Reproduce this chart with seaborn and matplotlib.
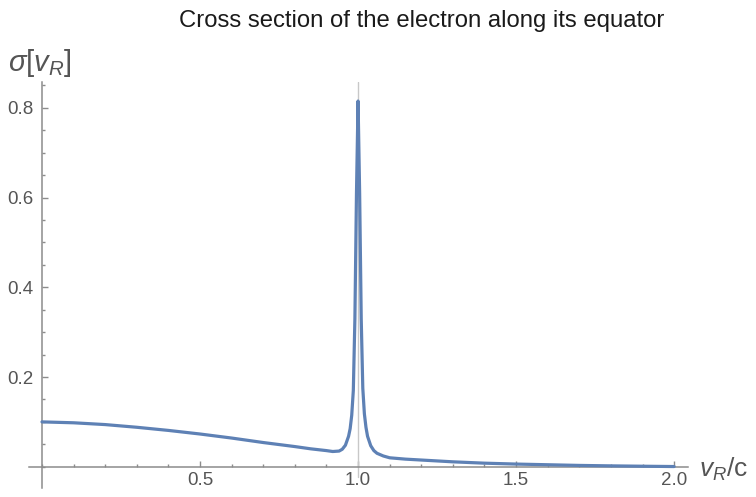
import matplotlib
matplotlib.use("Agg")
import matplotlib.pyplot as plt
from matplotlib.ticker import MultipleLocator, FixedLocator
import seaborn as sns
import pandas as pd

# Equatorial cross section sampled against v_R / c
v_ratio = [0.0, 0.1, 0.2, 0.3, 0.4, 0.5, 0.6, 0.7, 0.8, 0.85, 0.9, 0.92,
           0.94, 0.95, 0.96, 0.97, 0.975, 0.98, 0.985, 0.99, 0.995, 1.0,
           1.005, 1.01, 1.015, 1.02, 1.025, 1.03, 1.04, 1.05, 1.06, 1.08,
           1.1, 1.15, 1.2, 1.3, 1.4, 1.5, 1.6, 1.7, 1.8, 1.9, 2.0]
sigma = [0.100, 0.098, 0.094, 0.088, 0.081, 0.073, 0.064, 0.054, 0.045, 0.040,
         0.036, 0.034, 0.035, 0.039, 0.048, 0.068, 0.085, 0.115, 0.170, 0.330,
         0.610, 0.815, 0.610, 0.330, 0.175, 0.118, 0.088, 0.068, 0.047, 0.036,
         0.030, 0.024, 0.020, 0.017, 0.015, 0.011, 0.008, 0.006, 0.0045, 0.003,
         0.002, 0.0012, 0.0005]

x_major = [0.5, 1.0, 1.5, 2.0]
x_labels = ["0.5", "1.0", "1.5", "2.0"]
y_major = [0.2, 0.4, 0.6, 0.8]
y_labels = ["0.2", "0.4", "0.6", "0.8"]

title = "Cross section of the electron along its equator"

df = pd.DataFrame({"v": v_ratio, "sigma": sigma})

sns.set_theme(style="white")
plt.rcParams["font.family"] = ["Liberation Sans", "DejaVu Sans"]
plt.rcParams["mathtext.fontset"] = "custom"
plt.rcParams["mathtext.rm"] = "Liberation Sans"
plt.rcParams["mathtext.it"] = "Liberation Sans:italic"

axis_color = "#8c8c8c"
text_color = "#555555"

fig = plt.figure(figsize=(7.56, 4.97), dpi=100)
ax = fig.add_axes([0.0384, 0.0175, 0.8717, 0.818])

sns.lineplot(data=df, x="v", y="sigma", ax=ax, color="#5E81B5",
             linewidth=2.3, sort=False, estimator=None, zorder=3)

ax.set_xlim(-0.041, 2.044)
ax.set_ylim(-0.048, 0.858)

# light reference line at v_R = c, running a little past the axis
ax.axvline(1.0, ymin=(-0.022 + 0.048) / 0.906, ymax=1.0, color="#c8c8c8",
           linewidth=1.0, zorder=1)

# axes through the origin
for side in ("top", "right"):
    ax.spines[side].set_visible(False)
ax.spines["left"].set_position(("data", 0))
ax.spines["bottom"].set_position(("data", 0))
for side in ("left", "bottom"):
    ax.spines[side].set_color(axis_color)
    ax.spines[side].set_linewidth(1.1)
    ax.spines[side].set_zorder(2)

ax.xaxis.set_major_locator(FixedLocator(x_major))
ax.set_xticklabels(x_labels)
ax.xaxis.set_minor_locator(MultipleLocator(0.1))
ax.yaxis.set_major_locator(FixedLocator(y_major))
ax.set_yticklabels(y_labels)
ax.yaxis.set_minor_locator(MultipleLocator(0.05))

ax.tick_params(which="both", direction="in", color=axis_color, width=1.0,
               labelcolor=text_color, labelsize=13.5)
ax.tick_params(which="major", length=4.5)
ax.tick_params(which="minor", length=2.4)
ax.tick_params(axis="x", which="both", bottom=True, pad=4)
ax.tick_params(axis="y", which="both", left=True, pad=6)
ax.set_xlabel("")
ax.set_ylabel("")
ax.grid(False)

fig.text(0.558, 0.958, title, ha="center", va="center", fontsize=17.2,
         color="#1a1a1a")
fig.text(0.010, 0.873, r"$\sigma[v_R]$", ha="left", va="center",
         fontsize=21, color=text_color)
fig.text(0.925, 0.055, r"$v_R$/c", ha="left", va="center",
         fontsize=19, color=text_color)

fig.savefig("out.png", dpi=100)
